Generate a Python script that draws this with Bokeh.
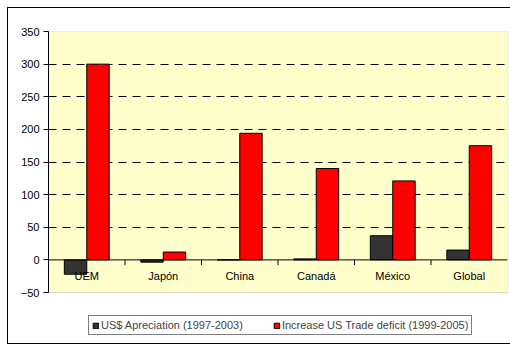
from bokeh.plotting import figure
from bokeh.models import (ColumnDataSource, FactorRange, Range1d, Legend, LegendItem,
                          FixedTicker, Span, BoxAnnotation)
from bokeh.core.properties import value
from bokeh.transform import dodge
from bokeh.embed import file_html
from bokeh.resources import INLINE

categories = ["UEM", "Japón", "China", "Canadá", "México", "Global"]
apreciation = [-22, -3.5, 0, 1.5, 37, 15]
trade_deficit = [300, 12, 194, 140, 121, 175]
y_ticks = [-50, 0, 50, 100, 150, 200, 250, 300, 350]
series_names = ["US$ Apreciation (1997-2003)", "Increase US Trade deficit (1999-2005)"]

FONT = "Liberation Sans"

# layout (pixels)
W, H = 502, 335
LEFT, RIGHT, TOP = 40, 3, 23
AREA_H = 261                      # height of the yellow plot area
FRAME_H = H - TOP                 # frame runs down to the chart border (room for legend)
y_lo, y_hi = y_ticks[0], y_ticks[-1]
y_min = y_lo - (FRAME_H - AREA_H) * (y_hi - y_lo) / AREA_H

src = ColumnDataSource(dict(cat=categories, a=apreciation, t=trade_deficit,
                            zero=[0] * len(categories)))

p = figure(width=W, height=H, output_backend="svg", toolbar_location=None,
           x_range=FactorRange(*categories, range_padding=0),
           y_range=Range1d(y_min, y_hi), x_axis_location=None,
           min_border_left=LEFT, min_border_right=RIGHT, min_border_top=TOP, min_border_bottom=0)
p.frame_width = W - LEFT - RIGHT
p.frame_height = FRAME_H
p.styles = {"margin-left": "7px", "margin-top": "7px",
            "border-left": "1px solid black", "border-top": "1px solid black",
            "border-bottom": "1px solid black"}

p.background_fill_color = "white"
p.border_fill_color = "white"
p.outline_line_color = None

# yellow plot area
p.add_layout(BoxAnnotation(bottom=y_lo, top=y_hi, fill_color="#FFFFCC", fill_alpha=1,
                           line_color="#808080", line_width=1, level="image"))

# grid
p.ygrid.ticker = FixedTicker(ticks=[t for t in y_ticks if t > 0])
p.ygrid.grid_line_color = "black"
p.ygrid.grid_line_dash = "8 6"
p.ygrid.grid_line_width = 1
p.xgrid.grid_line_color = None

bw = 0.293
r1 = p.vbar(x=dodge("cat", -bw / 2, range=p.x_range), top="a", width=bw, source=src,
            fill_color="#333333", line_color="black", line_width=1)
r2 = p.vbar(x=dodge("cat", bw / 2, range=p.x_range), top="t", width=bw, source=src,
            fill_color="#FF0000", line_color="black", line_width=1)

# y axis
p.yaxis.ticker = FixedTicker(ticks=y_ticks)
p.yaxis.bounds = (y_lo, y_hi)
p.yaxis.major_label_text_font = FONT
p.yaxis.major_label_text_font_size = "11px"
p.yaxis.major_label_text_color = "black"
p.yaxis.major_tick_out = 5
p.yaxis.major_tick_in = 0
p.yaxis.minor_tick_line_color = None
p.yaxis.axis_line_color = "black"
p.yaxis.major_label_standoff = 4

# category axis drawn on the zero line
p.add_layout(Span(location=0, dimension="width", line_color="black", line_width=1))
n = len(categories)
bx = list(range(1, n))
p.segment(x0=bx, x1=bx, y0=[0] * len(bx), y1=[-8] * len(bx), line_color="black", line_width=1)
p.text(x="cat", y="zero", text="cat", source=src, text_align="center", text_baseline="top",
       y_offset=10, text_font=value(FONT), text_font_size="11px", text_color="black")

legend = Legend(items=[LegendItem(label=series_names[0], renderers=[r1]),
                       LegendItem(label=series_names[1], renderers=[r2])],
                orientation="horizontal", location=(40, 8))
legend.label_text_font = FONT
legend.label_text_font_size = "11px"
legend.label_height = 12
legend.glyph_height = 7
legend.glyph_width = 7
legend.label_standoff = 2
legend.spacing = 30
legend.padding = 3
legend.margin = 0
legend.border_line_color = "black"
legend.border_line_width = 1
legend.background_fill_color = "white"
legend.background_fill_alpha = 1
p.add_layout(legend, "center")

open("out.html", "w").write(file_html(p, INLINE))
